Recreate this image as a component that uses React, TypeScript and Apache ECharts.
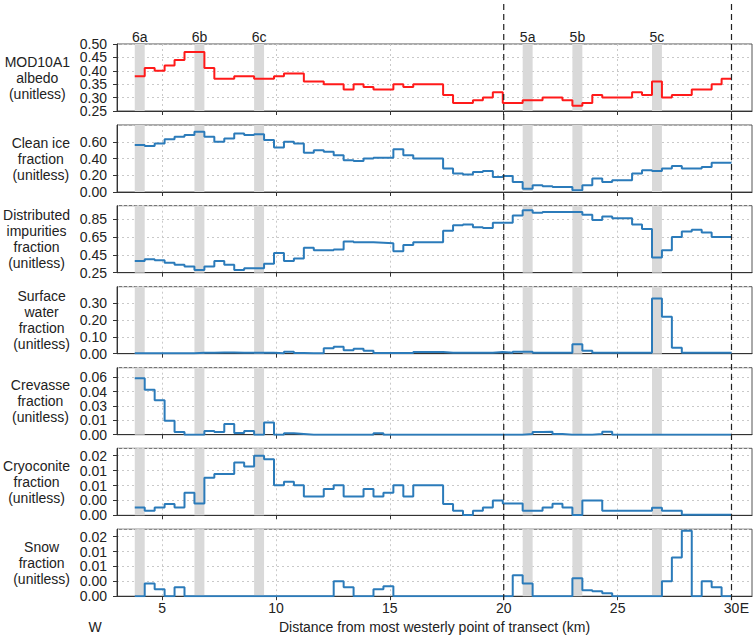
import React, { useEffect, useRef } from "react";
import * as echarts from "echarts";

// ---- data ----
const binStartKm = 3.8;
const binWidthKm = 0.4367;
const xTickValues = [5, 10, 15, 20, 25, 30];
const siteLabels = ["6a", "6b", "6c", "5a", "5b", "5c"];
const siteBins = [0, 6, 12, 39, 44, 52];
const boundaryKm = [20, 30];
const albedoTicks = [0.25, 0.3, 0.35, 0.4, 0.45, 0.5];

const albedo = [0.38, 0.41, 0.40, 0.42, 0.44, 0.47, 0.47, 0.41, 0.37, 0.37, 0.38, 0.38, 0.37, 0.37, 0.38, 0.39, 0.39, 0.36, 0.36, 0.35, 0.35, 0.33, 0.35, 0.34, 0.33, 0.33, 0.35, 0.34, 0.35, 0.35, 0.35, 0.31, 0.28, 0.28, 0.29, 0.30, 0.32, 0.28, 0.28, 0.29, 0.29, 0.30, 0.30, 0.29, 0.27, 0.28, 0.31, 0.30, 0.30, 0.30, 0.32, 0.31, 0.36, 0.30, 0.31, 0.31, 0.33, 0.33, 0.35, 0.37];
const cleanIce = [0.56, 0.55, 0.58, 0.63, 0.66, 0.68, 0.72, 0.66, 0.60, 0.64, 0.70, 0.68, 0.69, 0.62, 0.53, 0.60, 0.58, 0.47, 0.50, 0.48, 0.44, 0.38, 0.37, 0.40, 0.41, 0.41, 0.51, 0.44, 0.40, 0.40, 0.40, 0.28, 0.22, 0.21, 0.24, 0.25, 0.18, 0.19, 0.12, 0.04, 0.08, 0.07, 0.06, 0.06, 0.02, 0.08, 0.16, 0.12, 0.14, 0.14, 0.22, 0.26, 0.25, 0.28, 0.31, 0.28, 0.28, 0.30, 0.35, 0.35];
const impurities = [0.38, 0.40, 0.39, 0.36, 0.34, 0.32, 0.28, 0.32, 0.38, 0.34, 0.28, 0.30, 0.30, 0.35, 0.47, 0.38, 0.41, 0.53, 0.50, 0.50, 0.51, 0.60, 0.59, 0.59, 0.585, 0.58, 0.49, 0.56, 0.59, 0.59, 0.59, 0.72, 0.78, 0.79, 0.76, 0.75, 0.81, 0.81, 0.89, 0.95, 0.92, 0.93, 0.93, 0.93, 0.93, 0.90, 0.84, 0.88, 0.86, 0.86, 0.79, 0.74, 0.42, 0.50, 0.65, 0.71, 0.73, 0.70, 0.65, 0.65];
const surfaceWater = [0.002, 0.002, 0.002, 0.002, 0.002, 0.002, 0.006, 0.006, 0.007, 0.007, 0.006, 0.006, 0.006, 0.006, 0.002, 0.012, 0.004, 0.002, 0.002, 0.032, 0.042, 0.02, 0.03, 0.018, 0.004, 0.004, 0.004, 0.004, 0.01, 0.01, 0.01, 0.006, 0.006, 0.006, 0.006, 0.006, 0.01, 0.006, 0.012, 0.012, 0.005, 0.005, 0.005, 0.005, 0.056, 0.018, 0.005, 0.005, 0.005, 0.005, 0.005, 0.005, 0.33, 0.22, 0.036, 0.005, 0.005, 0.005, 0.005, 0.005];
const crevasse = [0.059, 0.047, 0.036, 0.0145, 0.0028, 0, 0, 0.0039, 0.0028, 0.0113, 0.0018, 0.0039, 0, 0.0127, 0, 0.0014, 0.0007, 0, 0, 0, 0, 0, 0, 0, 0.0014, 0, 0, 0, 0, 0, 0, 0, 0, 0, 0, 0, 0, 0, 0, 0.0007, 0.0028, 0.003, 0.0007, 0, 0, 0, 0.0007, 0.003, 0, 0, 0, 0, 0, 0, 0, 0, 0, 0, 0, 0];
const cryoconite = [0.0026, 0.0015, 0.0026, 0.0038, 0.0026, 0.0076, 0.004, 0.0126, 0.0139, 0.0139, 0.0177, 0.0164, 0.02, 0.0188, 0.0101, 0.0113, 0.0101, 0.0063, 0.0063, 0.0088, 0.0101, 0.0063, 0.0063, 0.0088, 0.0063, 0.0076, 0.0101, 0.0063, 0.0101, 0.0101, 0.0101, 0.0038, 0.0015, 0.0001, 0.0015, 0.0026, 0.005, 0.004, 0.004, 0.0015, 0.0015, 0.0026, 0.0039, 0.0026, 0.0001, 0.005, 0.005, 0.0015, 0.0015, 0.0015, 0.0015, 0.0015, 0.0025, 0.0015, 0.0015, 0.0002, 0.0002, 0.0002, 0.0002, 0.0002];
const snow = [0, 0.0043, 0.0023, 0, 0.003, 0, 0, 0, 0, 0, 0, 0, 0, 0, 0, 0, 0, 0, 0, 0, 0.005, 0.003, 0, 0, 0.0023, 0.0033, 0, 0, 0, 0, 0, 0, 0, 0, 0, 0, 0, 0, 0.007, 0.0043, 0, 0, 0, 0, 0.006, 0.002, 0.0017, 0.001, 0, 0, 0, 0, 0, 0.005, 0.013, 0.022, 0, 0.005, 0.003, 0];

const panelNames = [
  "MOD10A1\nalbedo\n(unitless)",
  "Clean ice\nfraction\n(unitless)",
  "Distributed\nimpurities\nfraction\n(unitless)",
  "Surface\nwater\nfraction\n(unitless)",
  "Crevasse\nfraction\n(unitless)",
  "Cryoconite\nfraction\n(unitless)",
  "Snow\nfraction\n(unitless)",
];
const smallFractionTickLabels = ["0.00", "0.00", "0.01", "0.01", "0.02"];

const FONT = '"Liberation Sans", Arial, Helvetica, sans-serif';

export default function App() {
  const ref = useRef<HTMLDivElement>(null);
  useEffect(() => {
    if (!ref.current) return;
    const chart = echarts.init(ref.current, null, { renderer: "svg" });

    const seriesValues = [albedo, cleanIce, impurities, surfaceWater, crevasse, cryoconite, snow];
    const yCfg = [
      { min: 0.25, max: 0.5, interval: 0.05, showMax: true, viaGraphic: true },
      { min: 0, max: 0.8, interval: 0.2, showMax: false },
      { min: 0.25, max: 1.0, interval: 0.2, showMax: false },
      { min: 0, max: 0.4, interval: 0.1, showMax: false },
      { min: 0, max: 0.07, interval: 0.015, showMax: false },
      { min: 0, max: 0.0225, interval: 0.005, showMax: false, labels: smallFractionTickLabels },
      { min: 0, max: 0.0225, interval: 0.005, showMax: false, labels: smallFractionTickLabels },
    ] as any[];

    const gridLeft = 117;
    const gridRight = 3;
    const tops = [44, 125, 205.7, 286.7, 367.7, 448.3, 529.2];
    const h = 67;
    const xMin = 3.02;
    const xMax = 30.9;
    const labelMargin = 10;

    const edge = (i: number) => binStartKm + i * binWidthKm;

    const ctx = document.createElement("canvas").getContext("2d")!;
    ctx.font = "14px " + FONT;
    const blockRight = 70;

    const splitStyle = { color: "#c9c9c9", type: [2, 3] as any, width: 1 };

    const grids = tops.map((t) => ({ left: gridLeft, right: gridRight, top: t, height: h, show: true, borderColor: "#555", borderWidth: 1, backgroundColor: "transparent" }));

    const xAxes = tops.map((_, i) => ({
      type: "value",
      gridIndex: i,
      min: xMin,
      max: xMax,
      splitNumber: 5,
      axisLine: { show: true, onZero: false, lineStyle: { color: "#333", width: 1 } },
      axisTick: { show: true, length: 4, inside: false, customValues: xTickValues, lineStyle: { color: "#333" } },
      axisLabel: { show: i === 6, customValues: xTickValues, fontSize: 14, color: "#222", fontFamily: FONT, margin: 5, hideOverlap: false },
      splitLine: { show: true, lineStyle: splitStyle },
      name: i === 6 ? "Distance from most westerly point of transect (km)" : "",
      nameLocation: "middle",
      nameGap: 24,
      nameTextStyle: { fontSize: 14, color: "#222", fontFamily: FONT },
    }));

    const yAxes = yCfg.map((c, i) => {
      const lines = panelNames[i].split("\n");
      const w = Math.max(...lines.map((l) => ctx.measureText(l).width));
      const center = blockRight - w / 2;
      return {
        type: "value",
        gridIndex: i,
        min: c.min,
        max: c.max,
        interval: c.interval,
        axisLine: { show: true, onZero: false, lineStyle: { color: "#333" } },
        axisTick: { show: true, length: 4, lineStyle: { color: "#333" } },
        axisLabel: {
          show: !c.viaGraphic,
          fontSize: 14,
          color: "#222",
          fontFamily: FONT,
          margin: labelMargin,
          hideOverlap: false,
          showMinLabel: true,
          showMaxLabel: c.showMax,
          formatter: (v: number, idx: number) => (c.labels ? c.labels[idx] ?? "" : v.toFixed(2)),
        },
        splitLine: { show: true, lineStyle: splitStyle },
        name: panelNames[i],
        nameLocation: "middle",
        nameRotate: 0,
        nameGap: gridLeft - center,
        nameTextStyle: { fontSize: 14, color: "#222", fontFamily: FONT, align: "center", verticalAlign: "middle", lineHeight: 16 },
      };
    });

    const bands = siteBins.map((b, k) => [
      { name: siteLabels[k], xAxis: edge(b) },
      { xAxis: edge(b + 1) },
    ]);

    const series = seriesValues.map((vals, i) => {
      const pts = vals.map((v, j) => [edge(j), v]);
      pts.push([edge(vals.length), vals[vals.length - 1]]);
      return {
        type: "line",
        xAxisIndex: i,
        yAxisIndex: i,
        step: "end",
        symbol: "none",
        data: pts,
        lineStyle: { color: i === 0 ? "#ff1a1a" : "#2b7bba", width: 2 },
        z: 3,
        markArea: {
          silent: true,
          itemStyle: { color: "#d9d9d9" },
          label: { show: i === 0, position: "top", distance: 0, fontSize: 14, color: "#222", fontFamily: FONT },
          data: bands,
        },
      };
    });

    chart.setOption({
      animation: false,
      backgroundColor: "#ffffff",
      textStyle: { fontFamily: FONT },
      grid: grids,
      xAxis: xAxes,
      yAxis: yAxes,
      series,
    });

    const bottom = tops[6] + h;
    const graphics: any[] = boundaryKm.map((km) => {
      const px = chart.convertToPixel({ xAxisIndex: 0 }, km) as number;
      return {
        type: "line",
        shape: { x1: px, y1: 4, x2: px, y2: bottom + 4 },
        style: { stroke: "#222", lineWidth: 1.2, lineDash: [6, 4] },
        z: 100,
      };
    });
    albedoTicks.forEach((v) => {
      const py = chart.convertToPixel({ yAxisIndex: 0 }, v) as number;
      graphics.push({
        type: "text",
        x: gridLeft - labelMargin,
        y: py,
        style: { text: v.toFixed(2), fill: "#222", font: "14px " + FONT, align: "right", verticalAlign: "middle" },
      });
    });
    const pxLeft = chart.convertToPixel({ xAxisIndex: 6 }, xMin) as number;
    const px30 = chart.convertToPixel({ xAxisIndex: 6 }, 30) as number;
    graphics.push({ type: "text", x: pxLeft - 22, y: bottom + 31, style: { text: "W", fill: "#222", font: "14px " + FONT, align: "center", verticalAlign: "middle" } });
    graphics.push({ type: "text", x: px30 + 13, y: bottom + 12, style: { text: "E", fill: "#222", font: "14px " + FONT, align: "center", verticalAlign: "middle" } });
    chart.setOption({ graphic: graphics });

    return () => chart.dispose();
  }, []);
  return <div ref={ref} style={{ position: "absolute", left: 0, top: 0, width: 755, height: 640 }} />;
}
